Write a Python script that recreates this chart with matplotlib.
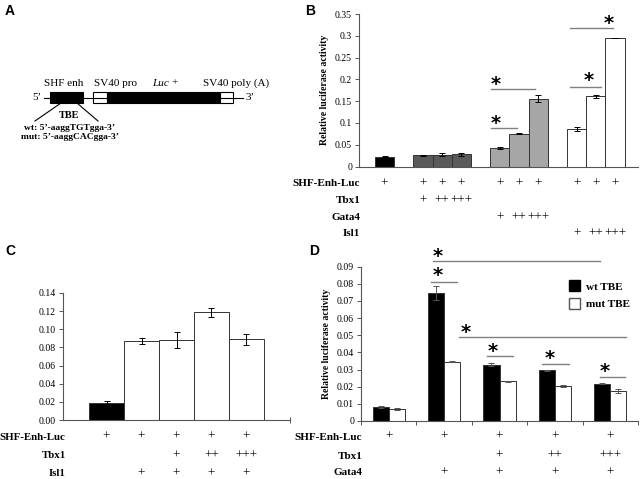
import matplotlib
matplotlib.use('Agg')
import matplotlib.pyplot as plt
from matplotlib.patches import Rectangle, Patch
from matplotlib.transforms import offset_copy
import numpy as np

plt.rcParams['font.family'] = ['Liberation Serif', 'DejaVu Serif']

# ---------------- data ----------------
# panel B
b_pos = [1, 3, 4, 5, 7, 8, 9, 11, 12, 13]
b_vals = [0.022, 0.026, 0.027, 0.028, 0.043, 0.075, 0.156, 0.086, 0.161, 0.295]
b_err = [0.001, 0.001, 0.003, 0.004, 0.002, 0.001, 0.007, 0.004, 0.004, 0.001]
b_colors = ['black'] + ['#5a5a5a'] * 3 + ['#a6a6a6'] * 3 + ['white'] * 3
b_rows = ['SHF-Enh-Luc', 'Tbx1', 'Gata4', 'Isl1']
b_marks = [
    ['+'] * 10,
    ['', '+', '++', '+++', '', '', '', '', '', ''],
    ['', '', '', '', '+', '++', '+++', '', '', ''],
    ['', '', '', '', '', '', '', '+', '++', '+++'],
]
# significance: x0, x1, line y, star x, star y
b_sig = [
    (6.55, 7.9, 0.088, 6.81, 0.109),
    (6.55, 8.84, 0.177, 6.81, 0.198),
    (10.66, 12.27, 0.182, 11.65, 0.207),
    (10.66, 12.9, 0.318, 12.69, 0.338),
]

# panel C
c_vals = [0.019, 0.087, 0.088, 0.119, 0.089]
c_err = [0.002, 0.003, 0.009, 0.005, 0.006]
c_colors = ['black', 'white', 'white', 'white', 'white']
c_rows = ['SHF-Enh-Luc', 'Tbx1', 'Isl1']
c_marks = [
    ['+', '+', '+', '+', '+'],
    ['', '', '+', '++', '+++'],
    ['', '+', '+', '+', '+'],
]

# panel D
d_wt = [0.0083, 0.0745, 0.0329, 0.0296, 0.0216]
d_wt_err = [0.0005, 0.004, 0.001, 0.0003, 0.0003]
d_mut = [0.0070, 0.0346, 0.0231, 0.0202, 0.0175]
d_mut_err = [0.0005, 0.0004, 0.0004, 0.0006, 0.001]
d_rows = ['SHF-Enh-Luc', 'Tbx1', 'Gata4']
d_marks = [
    ['+', '+', '+', '+', '+'],
    ['', '', '+', '++', '+++'],
    ['', '+', '+', '+', '+'],
]
d_sig = [
    (1.30, 4.31, 0.0933, 1.39, 0.098),
    (1.26, 1.73, 0.0811, 1.39, 0.087),
    (1.77, 4.79, 0.049, 1.89, 0.054),
    (2.27, 2.74, 0.038, 2.38, 0.043),
    (3.26, 3.75, 0.0333, 3.41, 0.039),
    (4.31, 4.76, 0.0257, 4.40, 0.031),
]

W, H = 640, 479
fig = plt.figure(figsize=(6.4, 4.79), dpi=100)


def px_axes(l, t, r, b):
    return fig.add_axes([l / W, 1 - b / H, (r - l) / W, (b - t) / H])


def style_axes(ax):
    for s in ['top', 'right']:
        ax.spines[s].set_visible(False)
    for s in ['left', 'bottom']:
        ax.spines[s].set_color('#555555')
        ax.spines[s].set_linewidth(0.8)
    ax.tick_params(axis='y', direction='out', length=3, width=0.7,
                   color='#555555', labelsize=7, pad=2)


def rows(ax, names, marks, xs, ys, lab_x=0.004, lab_size=8):
    for name, mk, y in zip(names, marks, ys):
        ax.text(lab_x, y, name, transform=ax.transAxes, ha='right',
                va='center', fontsize=lab_size, fontweight='bold')
        for x, m in zip(xs, mk):
            if m:
                ax.text(x, y, m, transform=ax.get_xaxis_transform(),
                        ha='center', va='center', fontsize=9.5)


def stars(ax, sig, color='#808080'):
    tr = offset_copy(ax.transData, fig=fig, x=0, y=-4, units='dots')
    for x0, x1, ly, sx, sy in sig:
        ax.plot([x0, x1], [ly, ly], color=color, lw=1, clip_on=False)
        ax.text(sx, sy, '*', ha='center', va='center', fontsize=14,
                family='DejaVu Sans', fontweight='bold', clip_on=False,
                transform=tr)


# ---------------- panel A ----------------
axA = fig.add_axes([0, 1 - 240 / H, 320 / W, 240 / H])
axA.set_xlim(0, 320)
axA.set_ylim(240, 0)
axA.axis('off')
axA.plot([44, 243], [97.5, 97.5], color='black', lw=0.8)
for x0, x1, fc in [(50, 83, 'black'), (93, 107, 'white'),
                   (107, 220, 'black'), (220, 233, 'white')]:
    axA.add_patch(Rectangle((x0, 92), x1 - x0, 11, facecolor=fc,
                            edgecolor='black', lw=0.8))
axA.text(37, 97.5, '5’', ha='center', va='center', fontsize=8)
axA.text(250, 97.5, '3’', ha='center', va='center', fontsize=8)
axA.text(64, 83, 'SHF enh', ha='center', va='center', fontsize=8)
axA.text(115, 83, 'SV40 pro', ha='center', va='center', fontsize=8)
axA.text(152, 83, 'Luc', ha='left', va='center', fontsize=8, style='italic')
axA.text(171, 83, '+', ha='left', va='center', fontsize=8)
axA.text(236, 83, 'SV40 poly (A)', ha='center', va='center', fontsize=8)
axA.plot([61, 35], [103, 121], color='black', lw=0.8)
axA.plot([77, 98], [103, 121], color='black', lw=0.8)
axA.text(69, 115, 'TBE', ha='center', va='center', fontsize=7.5,
         fontweight='bold')
axA.text(70, 128, 'wt: 5’-aaggTGTgga-3’', ha='center', va='center',
         fontsize=6.8, fontweight='bold')
axA.text(70, 137, 'mut: 5’-aaggCACgga-3’', ha='center', va='center',
         fontsize=6.8, fontweight='bold')

# ---------------- panel B ----------------
axB = px_axes(359, 14, 638, 166.5)
style_axes(axB)
axB.bar(b_pos, b_vals, width=1.0, color=b_colors, edgecolor='#333333',
        linewidth=0.7, yerr=b_err, capsize=2,
        error_kw=dict(elinewidth=0.7, capthick=0.7, ecolor='black'))
axB.set_xlim(-0.33, 14.2)
axB.set_ylim(0, 0.35)
axB.set_yticks(np.arange(0, 0.351, 0.05))
axB.set_yticklabels(['0', '0.05', '0.1', '0.15', '0.2', '0.25', '0.3', '0.35'])
axB.set_xticks([])
axB.set_ylabel('Relative luciferase activity', fontsize=7, fontweight='bold',
               labelpad=4)
rows(axB, b_rows, b_marks, b_pos, [-0.112, -0.224, -0.336, -0.441])
stars(axB, b_sig)

# ---------------- panel C ----------------
axC = px_axes(63, 293, 290, 420)
style_axes(axC)
c_pos = np.arange(len(c_vals))
axC.bar(c_pos, c_vals, width=1.0, color=c_colors, edgecolor='#333333',
        linewidth=0.7, yerr=c_err, capsize=2,
        error_kw=dict(elinewidth=0.7, capthick=0.7, ecolor='black'))
axC.set_xlim(-1.243, 5.243)
axC.set_ylim(0, 0.14)
axC.set_yticks(np.arange(0, 0.141, 0.02))
axC.set_yticklabels(['%.2f' % v for v in np.arange(0, 0.141, 0.02)])
axC.set_xticks([5.243])
axC.set_xticklabels([])
axC.tick_params(axis='x', direction='inout', length=4, width=0.7,
                color='#555555')
rows(axC, c_rows, c_marks, c_pos, [-0.134, -0.283, -0.425],
     lab_x=0.012, lab_size=7.8)

# ---------------- panel D ----------------
axD = px_axes(361, 266.7, 638, 421)
style_axes(axD)
d_cent = np.arange(len(d_wt)) + 0.5
bw = 0.29
axD.bar(d_cent - bw / 2, d_wt, width=bw, color='black', edgecolor='#333333',
        linewidth=0.7, yerr=d_wt_err, capsize=2,
        error_kw=dict(elinewidth=0.7, capthick=0.7, ecolor='#555555'))
axD.bar(d_cent + bw / 2, d_mut, width=bw, color='white', edgecolor='#333333',
        linewidth=0.7, yerr=d_mut_err, capsize=2,
        error_kw=dict(elinewidth=0.7, capthick=0.7, ecolor='#555555'))
axD.set_xlim(0, 5)
axD.set_ylim(0, 0.09)
axD.set_yticks(np.arange(0, 0.0901, 0.01))
axD.set_yticklabels(['0'] + ['%.2f' % v for v in np.arange(0.01, 0.0901, 0.01)])
axD.set_xticks(np.arange(0, 6))
axD.set_xticklabels([])
axD.tick_params(axis='x', direction='out', length=3, width=0.7,
                color='#555555')
axD.set_ylabel('Relative luciferase activity', fontsize=7, fontweight='bold',
               labelpad=4)
rows(axD, d_rows, d_marks, d_cent, [-0.104, -0.227, -0.337])
stars(axD, d_sig)
axD.legend(handles=[Patch(facecolor='black', edgecolor='black', label='wt TBE'),
                    Patch(facecolor='white', edgecolor='#555555', label='mut TBE')],
           loc='upper left', bbox_to_anchor=(0.735, 0.94), frameon=False,
           prop=dict(family='Liberation Serif', weight='bold', size=8),
           handlelength=1.0, handleheight=1.1, labelspacing=0.6,
           handletextpad=0.5, borderaxespad=0)

# panel letters
for lab, x, y in [('A', 10, 11), ('B', 310, 11), ('C', 10, 251), ('D', 314, 251)]:
    fig.text(x / W, 1 - y / H, lab, ha='center', va='center', fontsize=10,
             fontweight='bold', family='Liberation Sans')

fig.savefig('out.png', dpi=100)
